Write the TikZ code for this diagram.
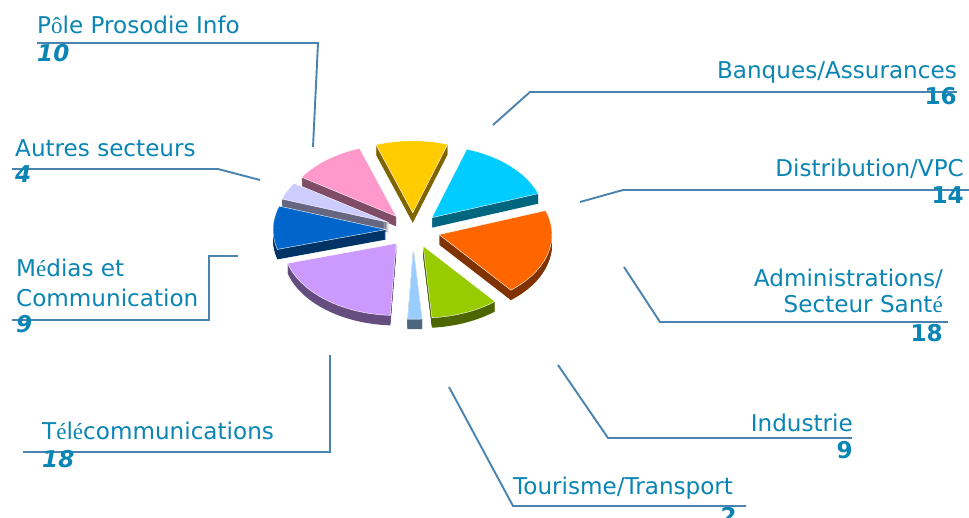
\documentclass[tikz,border=0pt]{standalone}
\usepackage{fontspec}
\setmainfont{DejaVu Sans}
\newfontfamily\accf{Liberation Serif}
\definecolor{txt}{RGB}{10,133,180}
\definecolor{ldr}{RGB}{74,131,176}
\definecolor{cYel}{RGB}{255,204,0}\definecolor{sYel}{RGB}{128,100,0}
\definecolor{cCya}{RGB}{0,204,255}\definecolor{sCya}{RGB}{0,102,128}
\definecolor{cOra}{RGB}{255,102,0}\definecolor{sOra}{RGB}{128,51,0}
\definecolor{cGre}{RGB}{153,204,0}\definecolor{sGre}{RGB}{77,102,0}
\definecolor{cLbl}{RGB}{153,204,255}\definecolor{sLbl}{RGB}{77,102,128}
\definecolor{cPur}{RGB}{204,153,255}\definecolor{sPur}{RGB}{102,77,128}
\definecolor{cDbl}{RGB}{0,102,204}\definecolor{sDbl}{RGB}{0,51,102}
\definecolor{cLav}{RGB}{204,204,255}\definecolor{sLav}{RGB}{102,102,128}
\definecolor{cPin}{RGB}{255,153,204}\definecolor{sPin}{RGB}{128,77,102}
\newcommand{\pieslice}[4]{%
  \pgfmathsetmacro\slm{(#1+#2)/2}%
  \pgfmathsetmacro\slx{413+27*cos(\slm)}%
  \pgfmathsetmacro\sly{287+17.2*sin(\slm)}%
  \foreach \i in {10,9,...,1}{%
    \fill[#4] (\slx,\sly-\i) -- ++(#1:113pt and 72pt)
      arc[start angle=#1,end angle=#2,x radius=113pt,y radius=72pt] -- cycle;}%
  \fill[#3,draw=white,line width=0.4pt] (\slx,\sly) -- ++(#1:113pt and 72pt)
      arc[start angle=#1,end angle=#2,x radius=113pt,y radius=72pt] -- cycle;}
\begin{document}
\begin{tikzpicture}[x=1pt,y=1pt,
  lbl/.style={text=txt,inner sep=0pt,font=\fontsize{23.1}{27}\selectfont},
  num/.style={text=txt,inner sep=0pt,font=\fontsize{23.1}{27}\selectfont\bfseries},
  numi/.style={text=txt,inner sep=0pt,font=\fontsize{23.1}{27}\selectfont\bfseries\itshape},
  leader/.style={draw=ldr,line width=1.9pt}]
\useasboundingbox (0,0) rectangle (969,517);
\clip (0,0) rectangle (969,517);
\fill[white] (0,0) rectangle (969,517);

% pie (back to front)
\pieslice{72}{109}{cYel}{sYel}
\pieslice{109}{147}{cPin}{sPin}
\pieslice{19.5}{72}{cCya}{sCya}
\pieslice{147}{161}{cLav}{sLav}
\pieslice{161}{196}{cDbl}{sDbl}
\pieslice{-50.5}{19.5}{cOra}{sOra}
\pieslice{196}{267}{cPur}{sPur}
\pieslice{274.5}{309.5}{cGre}{sGre}
\pieslice{267}{274.5}{cLbl}{sLbl}

% leader points
\coordinate (pp0) at (313,370); \coordinate (pp1) at (318,474); \coordinate (pp2) at (37,474);
\coordinate (au0) at (260,337); \coordinate (au1) at (218,348); \coordinate (au2) at (12,348);
\coordinate (me0) at (238,261); \coordinate (me1) at (209,261); \coordinate (me2) at (209,197); \coordinate (me3) at (12,197);
\coordinate (te0) at (330,162); \coordinate (te1) at (330,65); \coordinate (te2) at (23,65);
\coordinate (to0) at (449,130); \coordinate (to1) at (513,11); \coordinate (to2) at (746,11);
\coordinate (in0) at (558,152); \coordinate (in1) at (608,79); \coordinate (in2) at (852,79);
\coordinate (ad0) at (624,250); \coordinate (ad1) at (660,195); \coordinate (ad2) at (948,195);
\coordinate (di0) at (580,315); \coordinate (di1) at (623,327); \coordinate (di2) at (969,327);
\coordinate (ba0) at (493,392); \coordinate (ba1) at (530,425); \coordinate (ba2) at (957,425);

\draw[leader] (pp0) -- (pp1) -- (pp2);
\draw[leader] (au0) -- (au1) -- (au2);
\draw[leader] (me0) -- (me1) -- (me2) -- (me3);
\draw[leader] (te0) -- (te1) -- (te2);
\draw[leader] (to0) -- (to1) -- (to2);
\draw[leader] (in0) -- (in1) -- (in2);
\draw[leader] (ad0) -- (ad1) -- (ad2);
\draw[leader] (di0) -- (di1) -- (di2);
\draw[leader] (ba0) -- (ba1) -- (ba2);

% labels
\node[lbl,anchor=base west] (ppT) at (37,483) {P{\accf ô}le Prosodie Info};
\node[numi,anchor=base west] (ppN) at (37,455) {10};
\node[lbl,anchor=base west] (auT) at (15,360) {Autres secteurs};
\node[numi,anchor=base west] (auN) at (15,334) {4};
\node[lbl,anchor=base west] (meT1) at (16,240) {M{\accf é}dias et};
\node[lbl,anchor=base west] (meT2) at (16,210) {Communication};
\node[numi,anchor=base west] (meN) at (16,184) {9};
\node[lbl,anchor=base west] (teT) at (42,78) {T{\accf é}l{\accf é}communications};
\node[numi,anchor=base west] (teN) at (42,50) {18};
\node[lbl,anchor=base west] (toT) at (513,23) {Tourisme/Transport};
\node[num,anchor=base east] (toN) at (737,-7) {2};
\node[lbl,anchor=base east] (inT) at (853,85) {Industrie};
\node[num,anchor=base east] (inN) at (853,59) {9};
\node[lbl,anchor=base east] (adT1) at (943,230) {Administrations/};
\node[lbl,anchor=base east] (adT2) at (943,204) {Secteur Sant{\accf é}};
\node[num,anchor=base east] (adN) at (943,175) {18};
\node[lbl,anchor=base east] (diT) at (964,340) {Distribution/VPC};
\node[num,anchor=base east] (diN) at (964,313) {14};
\node[lbl,anchor=base east] (baT) at (957,438) {Banques/Assurances};
\node[num,anchor=base east] (baN) at (957,412) {16};
\end{tikzpicture}
\end{document}
